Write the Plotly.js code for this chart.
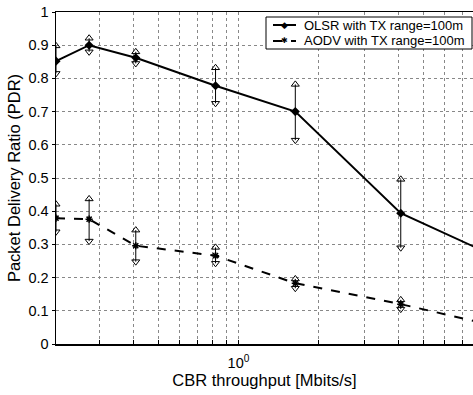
<!DOCTYPE html>
<html>
<head>
<meta charset="utf-8">
<script src="https://cdn.plot.ly/plotly-3.0.1.min.js"></script>
<style>html,body{margin:0;padding:0;background:#fff;}#chart{width:473px;height:395px;}</style>
</head>
<body>
<div id="chart"></div>
<script>
// CBR throughput (Mbits/s)
const throughput = [0.2048, 0.2731, 0.4096, 0.8192, 1.6384, 4.096, 8.192];
// OLSR PDR: mean, upper and lower bound
const olsrMean  = [0.852, 0.900, 0.862, 0.778, 0.700, 0.394, 0.284];
const olsrUpper = [0.898, 0.921, 0.880, 0.832, 0.782, 0.496, 0.284];
const olsrLower = [0.815, 0.880, 0.845, 0.725, 0.614, 0.290, 0.284];
// AODV PDR: mean, upper and lower bound
const aodvMean  = [0.379, 0.376, 0.296, 0.266, 0.183, 0.120, 0.065];
const aodvUpper = [0.421, 0.437, 0.343, 0.291, 0.196, 0.133, 0.065];
const aodvLower = [0.338, 0.310, 0.248, 0.243, 0.168, 0.105, 0.065];
const seriesNames = ['OLSR with TX range=100m', 'AODV with TX range=100m'];
const yTicks = [0, 0.1, 0.2, 0.3, 0.4, 0.5, 0.6, 0.7, 0.8, 0.9, 1];
const xGridVals = [0.3, 0.4, 0.5, 0.6, 0.7, 0.8, 0.9, 1, 2, 3, 4, 5, 6, 7];
const xGridText = ['', '', '', '', '', '', '', '10<sup>0</sup>', '', '', '', '', '', ''];

const W = 473, H = 395;
const M = {l: 56, r: 0, t: 12, b: 51};
const PW = W - M.l - M.r, PH = H - M.t - M.b;
const px = v => (v - M.l) / PW;      // pixel x -> paper x
const py = v => (H - M.b - v) / PH;  // pixel y -> paper y

function errTraces(mean, up, lo) {
  const n = mean.length - 1; // last point lies beyond the visible plot edge
  const xs = throughput.slice(0, n);
  return [
    {x: xs, y: mean.slice(0, n), mode: 'markers', type: 'scatter', showlegend: false, hoverinfo: 'skip',
     marker: {size: 1, color: 'rgba(0,0,0,0)'},
     error_y: {type: 'data', symmetric: false,
       array: up.slice(0, n).map((u, i) => u - mean[i]),
       arrayminus: lo.slice(0, n).map((l, i) => mean[i] - l),
       color: '#000', thickness: 1, width: 0}},
    {x: xs, y: up.slice(0, n), mode: 'markers', type: 'scatter', showlegend: false, hoverinfo: 'skip',
     marker: {symbol: 'triangle-up-open', size: 7, color: '#000', line: {width: 1, color: '#000'}}},
    {x: xs, y: lo.slice(0, n), mode: 'markers', type: 'scatter', showlegend: false, hoverinfo: 'skip',
     marker: {symbol: 'triangle-down-open', size: 7, color: '#000', line: {width: 1, color: '#000'}}}
  ];
}

const traces = [].concat(
  errTraces(olsrMean, olsrUpper, olsrLower),
  errTraces(aodvMean, aodvUpper, aodvLower),
  [
    {x: throughput, y: olsrMean, name: seriesNames[0], type: 'scatter', mode: 'lines+markers', showlegend: false,
     line: {color: '#000', width: 2},
     marker: {symbol: 'diamond', size: 7, color: '#000'}},
    {x: throughput, y: aodvMean, name: seriesNames[1], type: 'scatter', mode: 'lines+markers', showlegend: false,
     line: {color: '#000', width: 2, dash: 'dash'},
     marker: {symbol: 'asterisk-open', size: 6, color: '#000', line: {width: 1.5, color: '#000'}}}
  ]
);

const fam = '"Liberation Sans", Arial, Helvetica, sans-serif';
const tickFont = {family: fam, size: 14.5, color: '#000'};
const titleFont = {family: fam, size: 16.5, color: '#000'};
const legFont = {family: fam, size: 13, color: '#000'};

// compact legend box (MATLAB style)
const legRows = [25, 41];
const shapes = [
  {type: 'rect', xref: 'paper', yref: 'paper', x0: px(266), x1: px(472), y0: py(49), y1: py(17),
   line: {color: '#000', width: 1}, fillcolor: '#fff', layer: 'above'},
  {type: 'line', xref: 'paper', yref: 'paper', x0: px(273), x1: px(296), y0: py(legRows[0]), y1: py(legRows[0]),
   line: {color: '#000', width: 2}, layer: 'above'},
  {type: 'line', xref: 'paper', yref: 'paper', x0: px(273), x1: px(296), y0: py(legRows[1]), y1: py(legRows[1]),
   line: {color: '#000', width: 2, dash: 'dash'}, layer: 'above'}
];
const annotations = [
  {xref: 'paper', yref: 'paper', x: px(302), y: py(legRows[0]), xanchor: 'left', yanchor: 'middle',
   text: seriesNames[0], showarrow: false, font: legFont},
  {xref: 'paper', yref: 'paper', x: px(302), y: py(legRows[1]), xanchor: 'left', yanchor: 'middle',
   text: seriesNames[1], showarrow: false, font: legFont},
  {xref: 'paper', yref: 'paper', x: px(284.5), y: py(legRows[0]), xanchor: 'center', yanchor: 'middle',
   text: '\u25C6', showarrow: false, font: {family: '"DejaVu Sans", sans-serif', size: 9, color: '#000'}},
  {xref: 'paper', yref: 'paper', x: px(284.5), y: py(legRows[1]), xanchor: 'center', yanchor: 'middle',
   text: '\u2731', showarrow: false, font: {family: '"DejaVu Sans", sans-serif', size: 8, color: '#000'}}
];

const layout = {
  width: W, height: H,
  margin: M,
  paper_bgcolor: '#fff', plot_bgcolor: '#fff',
  font: tickFont,
  showlegend: false,
  shapes: shapes,
  annotations: annotations,
  xaxis: {type: 'log', range: [Math.log10(0.2048), 0.885],
    tickmode: 'array', tickvals: xGridVals, ticktext: xGridText,
    ticks: 'inside', ticklen: 4, tickcolor: '#000', ticklabelstandoff: 5,
    showgrid: true, gridcolor: '#888', griddash: 'dot', gridwidth: 1,
    showline: true, linecolor: '#000', linewidth: 1.5, mirror: true,
    zeroline: false,
    title: {text: 'CBR throughput [Mbits/s]', font: titleFont, standoff: 0},
    tickfont: tickFont},
  yaxis: {range: [0, 1], tickmode: 'array', tickvals: yTicks,
    ticks: 'outside', ticklen: 3, tickcolor: '#000', ticklabelstandoff: 0,
    showgrid: true, gridcolor: '#888', griddash: 'dot', gridwidth: 1,
    showline: true, linecolor: '#000', linewidth: 1.5, mirror: false,
    zeroline: false,
    title: {text: 'Packet Delivery Ratio (PDR)', font: titleFont, standoff: 3},
    tickfont: tickFont}
};

Plotly.newPlot('chart', traces, layout, {displayModeBar: false, staticPlot: true});
</script>
</body>
</html>
